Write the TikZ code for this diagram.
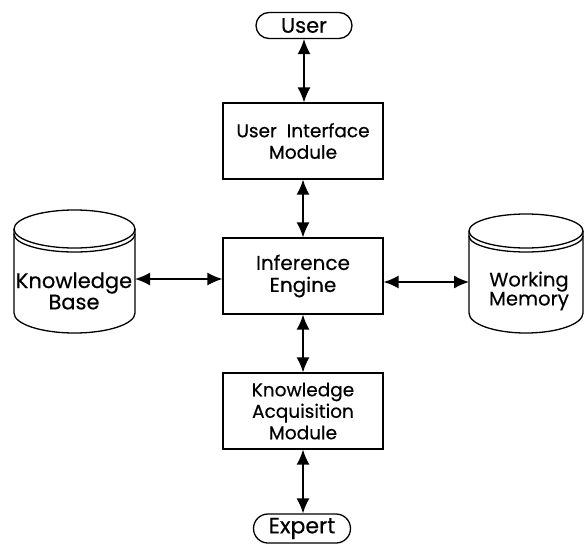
\documentclass[tikz,border=0pt]{standalone}
\usepackage{fontspec}
\setmainfont{Poppins}[FakeBold=0.4]
\usetikzlibrary{arrows.meta}
\tikzset{
  modbox/.style={draw, line width=1.3pt, minimum width=160pt, minimum height=76pt,
    align=center, inner sep=2pt, font=\fontsize{18.5}{21.5}\selectfont},
  pill/.style={draw, line width=1.3pt, minimum width=96pt, minimum height=26pt,
    rounded corners=13pt, inner sep=1pt},
  cyltext/.style={align=center, inner sep=0pt},
  cyl/.style={line width=1.3pt},
  biarrow/.style={line width=1.4pt, {Latex[length=15pt,width=13pt]}-{Latex[length=15pt,width=13pt]}}
}
\begin{document}
\begin{tikzpicture}[x=1pt,y=-1pt]
  \useasboundingbox (0,0) rectangle (584,546);

  % processing modules
  \node[pill, font=\fontsize{21}{24}\selectfont] (user) at (304,25.5) {User};
  \node[modbox] (ui) at (303,141) {User \ Interface\\Module};
  \node[modbox, font=\fontsize{20}{22}\selectfont] (ie) at (303,276) {Inference\\Engine};
  \node[modbox] (kam) at (303,411) {Knowledge\\Acquisition\\Module};
  \node[pill, minimum width=97pt, minimum height=29pt, rounded corners=14.5pt,
        font=\fontsize{22}{24}\selectfont] (expert) at (302,528.5) {Expert};

  % knowledge base cylinder
  \begin{scope}[cyl]
    \draw (74.5,229) ellipse [x radius=60.5, y radius=19];
    \draw (14,234) arc[start angle=180, end angle=0, x radius=60.5, y radius=18];
    \draw (14,229) -- (14,313) arc[start angle=180, end angle=0, x radius=60.5, y radius=20] -- (135,229);
  \end{scope}
  \node[cyltext, font=\fontsize{21}{20}\selectfont] (kb) at (74,291) {Knowledge\\Base};
  \coordinate (kbE) at (135,279);

  % working memory cylinder
  \begin{scope}[cyl]
    \draw (526,231) ellipse [x radius=57, y radius=17];
    \draw (469,236) arc[start angle=180, end angle=0, x radius=57, y radius=16];
    \draw (469,231) -- (469,313) arc[start angle=180, end angle=0, x radius=57, y radius=20] -- (583,231);
  \end{scope}
  \node[cyltext, font=\fontsize{19.5}{19}\selectfont] (wm) at (529,291) {Working\\Memory};
  \coordinate (wmW) at (469,282);

  % connectors
  \draw[biarrow] (user.south) -- (user.south |- ui.north);
  \draw[biarrow] (ui.south) -- (ie.north);
  \draw[biarrow] (ie.south) -- (kam.north);
  \draw[biarrow] (kam.south) -- (kam.south |- expert.north);
  \draw[biarrow] (kbE) -- (kbE -| ie.west);
  \draw[biarrow] (wmW) -- (wmW -| ie.east);
\end{tikzpicture}
\end{document}
